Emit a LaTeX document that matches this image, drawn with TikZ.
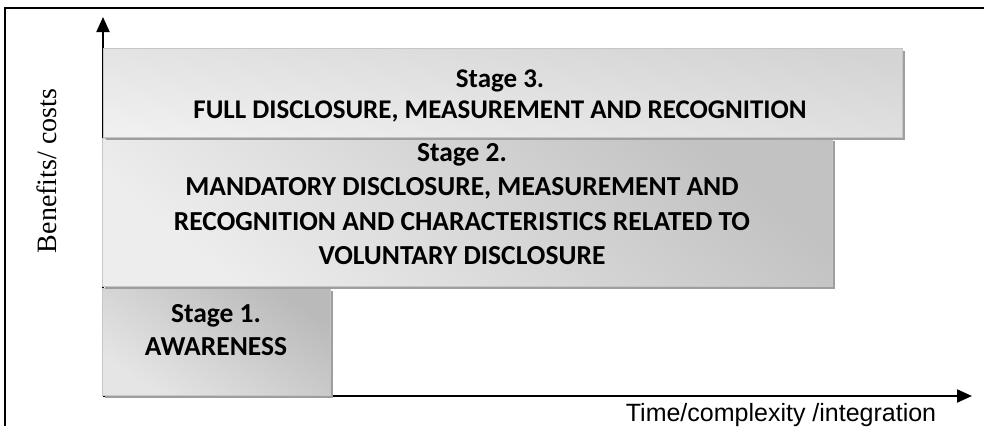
\documentclass[tikz,border=0pt]{standalone}
\usepackage{fontspec}
\setmainfont{Liberation Serif}
\newfontfamily\boxfont{Carlito}
\newfontfamily\axisfont{Liberation Sans}
\usetikzlibrary{arrows.meta,shadows}
\tikzset{
  stagebox/.style={rectangle, draw=gray!45, line width=0.8pt, inner sep=0pt, anchor=north west,
    general shadow={fill=black!38, shadow xshift=3pt, shadow yshift=-3pt}},
  stagetext/.style={align=center, font=\boxfont\bfseries\fontsize{27.5}{34.5}\selectfont, inner sep=0pt},
  axisline/.style={line width=2pt, -{Triangle[length=15pt,width=13pt]}},
}
\begin{document}
\begin{tikzpicture}[x=1pt,y=-1pt]
\useasboundingbox (0,0) rectangle (984,426);
% frame
\draw[line width=1.4pt] (5,426) -- (5,8) -- (984,8);
% axes
\coordinate (o) at (103,396);
\coordinate (ytip) at (103,17);
\coordinate (xtip) at (972,396);
\draw[axisline] (o) -- (ytip);
\draw[axisline] (o) -- (xtip);
% boxes
\node[stagebox, minimum width=228pt, minimum height=107pt,
  shading=axis, top color=black!27, bottom color=black!10, shading angle=-35] (b1) at (102,288) {};
\node[stagebox, minimum width=730pt, minimum height=148pt,
  shading=axis, top color=black!24, bottom color=black!7, shading angle=-40] (b2) at (102,138) {};
\node[stagebox, minimum width=799pt, minimum height=89pt,
  shading=axis, top color=black!17, bottom color=black!6, shading angle=-8] (b3) at (103,48) {};
% texts
\node[stagetext, font=\boxfont\bfseries\fontsize{27.5}{33}\selectfont] (t1) at (216,330) {Stage 1.\\AWARENESS};
\node[stagetext, font=\boxfont\bfseries\fontsize{27}{31}\selectfont] (t3) at (500,96) {Stage 3.\\FULL DISCLOSURE, MEASUREMENT AND RECOGNITION};
\node[stagetext] (t2) at (462,204) {Stage 2.\\MANDATORY DISCLOSURE, MEASUREMENT AND\\RECOGNITION AND CHARACTERISTICS RELATED TO\\VOLUNTARY DISCLOSURE};
% axis labels
\node[rotate=90, font=\fontsize{28}{32}\selectfont, inner sep=0pt] (ylab) at (47,171) {Benefits/ costs};
\node[anchor=base, font=\axisfont\fontsize{25}{28}\selectfont, inner sep=0pt] (xlab) at (781,421) {Time/complexity /integration};
\end{tikzpicture}
\end{document}
